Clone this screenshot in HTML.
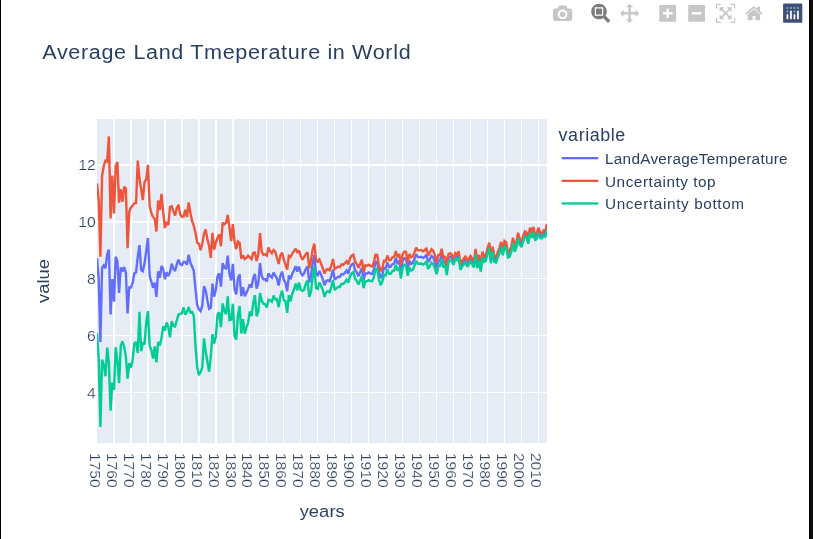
<!DOCTYPE html>
<html><head><meta charset="utf-8"><title>Average Land Tmeperature in World</title>
<style>
html,body{margin:0;padding:0;background:#fff;}
body{width:813px;height:539px;overflow:hidden;position:relative;font-family:"Liberation Sans",sans-serif;}
svg{position:absolute;left:0;top:0;will-change:transform;}
text{font-family:"Liberation Sans",sans-serif;fill:#2a3f5f;}
.tk{stroke:#fff;stroke-width:0.2px;paint-order:fill stroke;}
.ln{fill:none;stroke-width:2.4;stroke-linejoin:miter;stroke-miterlimit:2;}
</style></head><body>
<svg width="813" height="539" viewBox="0 0 813 539">
<rect x="0" y="0" width="813" height="539" fill="#fff"/>
<rect x="0" y="0" width="1" height="539" fill="#000"/>
<rect x="809" y="0" width="1" height="539" fill="#000"/><rect x="810" y="0" width="3" height="539" fill="#0f0f0f"/>
<rect x="97" y="119" width="450" height="324" fill="#e5ecf6"/>
<rect x="113" y="119" width="2" height="324" fill="#fff"/><rect x="130" y="119" width="2" height="324" fill="#fff"/><rect x="147" y="119" width="2" height="324" fill="#fff"/><rect x="164" y="119" width="2" height="324" fill="#fff"/><rect x="181" y="119" width="2" height="324" fill="#fff"/><rect x="198" y="119" width="2" height="324" fill="#fff"/><rect x="215" y="119" width="2" height="324" fill="#fff"/><rect x="232" y="119" width="2" height="324" fill="#fff"/><rect x="249" y="119" width="1" height="324" fill="#fff"/><rect x="266" y="119" width="1" height="324" fill="#fff"/><rect x="283" y="119" width="1" height="324" fill="#fff"/><rect x="300" y="119" width="1" height="324" fill="#fff"/><rect x="317" y="119" width="1" height="324" fill="#fff"/><rect x="334" y="119" width="1" height="324" fill="#fff"/><rect x="351" y="119" width="1" height="324" fill="#fff"/><rect x="368" y="119" width="1" height="324" fill="#fff"/><rect x="385" y="119" width="1" height="324" fill="#fff"/><rect x="402" y="119" width="1" height="324" fill="#fff"/><rect x="419" y="119" width="1" height="324" fill="#fff"/><rect x="436" y="119" width="1" height="324" fill="#fff"/><rect x="453" y="119" width="1" height="324" fill="#fff"/><rect x="470" y="119" width="1" height="324" fill="#fff"/><rect x="487" y="119" width="1" height="324" fill="#fff"/><rect x="504" y="119" width="1" height="324" fill="#fff"/><rect x="521" y="119" width="1" height="324" fill="#fff"/><rect x="538" y="119" width="1" height="324" fill="#fff"/><rect x="97" y="164" width="450" height="2" fill="#fff"/><rect x="97" y="221" width="450" height="2" fill="#fff"/><rect x="97" y="278" width="450" height="1" fill="#fff"/><rect x="97" y="335" width="450" height="1" fill="#fff"/><rect x="97" y="392" width="450" height="1" fill="#fff"/>
<clipPath id="cp"><rect x="97" y="119" width="450" height="324"/></clipPath>
<g clip-path="url(#cp)">
<path class="ln" stroke="#636efa" d="M97.00,258.22L98.70,279.27L100.40,341.86L102.09,267.60L103.79,265.33L105.49,268.46L107.19,254.52L108.89,249.68L110.58,314.55L112.28,278.98L113.98,301.74L115.68,256.79L117.38,261.35L119.07,292.93L120.77,267.32L122.47,271.59L124.17,267.04L125.87,272.44L127.56,313.41L129.26,287.52L130.96,287.52L132.66,282.97L134.36,273.29L136.05,272.44L137.75,256.79L139.45,245.13L141.15,270.16L142.85,271.30L144.54,263.34L146.24,250.82L147.94,238.02L149.64,275.86L151.34,281.54L153.03,287.80L154.73,282.68L156.43,296.91L158.13,271.30L159.83,277.85L161.52,265.90L163.22,269.31L164.92,279.27L166.62,272.16L168.32,276.14L170.01,272.16L171.71,263.62L173.41,268.74L175.11,271.02L176.81,264.19L178.50,259.64L180.20,264.19L181.90,265.04L183.60,261.91L185.30,262.20L186.99,264.48L188.69,254.80L190.39,262.77L192.09,266.47L193.79,270.73L195.48,289.23L197.18,304.87L198.88,309.43L200.58,311.13L202.28,305.73L203.97,286.10L205.67,290.36L207.37,300.32L209.07,308.86L210.77,307.72L212.46,283.54L214.16,296.62L215.86,289.51L217.56,276.14L219.26,273.29L220.95,286.67L222.65,263.05L224.35,267.60L226.05,268.46L227.75,255.66L229.44,273.86L231.14,280.41L232.84,263.91L234.54,288.94L236.24,294.35L237.93,278.42L239.63,274.43L241.33,296.05L243.03,287.24L244.73,296.34L246.42,292.64L248.12,289.23L249.82,284.39L251.52,287.52L253.22,278.13L254.91,273.86L256.61,288.66L258.31,282.97L260.01,263.05L261.71,276.14L263.40,279.27L265.10,279.27L266.80,281.54L268.50,273.58L270.20,275.86L271.89,277.56L273.59,272.73L275.29,275.57L276.99,278.70L278.69,285.53L280.38,275.86L282.08,271.59L283.78,279.84L285.48,282.97L287.18,291.22L288.87,275.57L290.57,279.27L292.27,273.58L293.97,270.45L295.67,266.18L297.36,271.59L299.06,266.47L300.76,273.01L302.46,275.29L304.16,273.29L305.85,268.74L307.55,266.47L309.25,282.68L310.95,276.42L312.65,263.34L314.34,255.09L316.04,273.86L317.74,275.29L319.44,271.02L321.14,275.00L322.83,279.27L324.53,285.24L326.23,280.98L327.93,280.12L329.63,281.26L331.32,276.14L333.02,269.60L334.72,279.55L336.42,278.13L338.12,276.71L339.81,276.99L341.51,274.15L343.21,274.43L344.91,272.73L346.61,270.45L348.30,273.58L350.00,267.32L351.70,264.48L353.40,263.34L355.10,270.16L356.79,272.44L358.49,276.14L360.19,272.16L361.89,267.89L363.59,280.12L365.28,273.29L366.98,273.58L368.68,272.44L370.38,273.58L372.08,273.86L373.77,270.16L375.47,261.91L377.17,261.91L378.87,272.16L380.57,278.13L382.26,275.00L383.96,267.89L385.66,268.46L387.36,262.48L389.06,267.04L390.75,266.75L392.45,264.19L394.15,263.62L395.85,257.93L397.55,263.91L399.24,260.78L400.94,271.87L402.64,260.78L404.34,258.22L406.04,258.50L407.73,269.03L409.43,260.78L411.13,263.91L412.83,263.05L414.53,258.79L416.22,254.23L417.92,257.08L419.62,257.08L421.32,256.79L423.02,257.93L424.71,257.08L426.41,254.52L428.11,262.20L429.81,259.35L431.51,255.94L433.20,257.36L434.90,261.91L436.60,268.17L438.30,260.78L440.00,260.49L441.69,253.95L443.39,262.77L445.09,260.78L446.79,270.73L448.49,257.93L450.18,256.79L451.88,257.93L453.58,262.20L455.28,255.94L456.98,257.36L458.67,254.23L460.37,267.04L462.07,263.62L463.77,261.63L465.47,258.79L467.16,263.91L468.86,261.63L470.56,258.79L472.26,261.63L473.96,264.48L475.65,251.67L477.35,265.33L479.05,257.65L480.75,268.74L482.45,254.52L484.14,259.07L485.84,257.93L487.54,250.82L489.24,245.41L490.94,260.49L492.63,249.40L494.33,259.07L496.03,259.92L497.73,255.09L499.43,250.53L501.12,244.56L502.82,252.53L504.52,243.71L506.22,245.13L507.92,254.80L509.61,253.95L511.31,249.11L513.01,240.29L514.71,249.11L516.41,244.56L518.10,235.46L519.80,242.00L521.50,244.56L523.20,238.59L524.90,234.03L526.59,235.17L528.29,241.15L529.99,230.34L531.69,235.17L533.39,229.48L535.08,238.02L536.78,235.74L538.48,230.34L540.18,235.46L541.88,235.74L543.57,232.90L545.27,234.03L546.97,226.64"/>
<path class="ln" stroke="#ef553b" d="M97.00,183.39L98.70,200.18L100.40,256.79L102.09,175.71L103.79,165.75L105.49,160.63L107.19,161.49L108.89,136.45L110.58,218.39L112.28,175.43L113.98,213.55L115.68,166.32L117.38,162.06L119.07,202.74L120.77,189.08L122.47,201.89L124.17,186.81L125.87,188.23L127.56,248.26L129.26,211.84L130.96,207.58L132.66,205.58L134.36,203.31L136.05,203.02L137.75,160.63L139.45,178.56L141.15,189.08L142.85,200.18L144.54,182.25L146.24,179.41L147.94,164.90L149.64,206.15L151.34,212.98L153.03,216.96L154.73,218.95L156.43,231.47L158.13,200.46L159.83,210.14L161.52,193.92L163.22,212.41L164.92,228.06L166.62,221.80L168.32,225.21L170.01,207.01L171.71,206.15L173.41,211.56L175.11,215.54L176.81,208.14L178.50,204.73L180.20,214.40L181.90,216.68L183.60,216.39L185.30,209.85L186.99,216.96L188.69,202.45L190.39,212.98L192.09,220.95L193.79,225.78L195.48,232.61L197.18,242.57L198.88,243.71L200.58,250.25L202.28,243.71L203.97,233.75L205.67,229.48L207.37,239.15L209.07,245.98L210.77,257.93L212.46,232.90L214.16,249.68L215.86,242.57L217.56,237.73L219.26,234.32L220.95,246.27L222.65,222.65L224.35,224.36L226.05,222.65L227.75,214.97L229.44,227.49L231.14,241.15L232.84,224.08L234.54,241.72L236.24,249.11L237.93,241.43L239.63,242.85L241.33,258.79L243.03,255.37L244.73,259.07L246.42,257.93L248.12,255.66L249.82,257.36L251.52,259.07L253.22,252.81L254.91,252.53L256.61,261.06L258.31,254.52L260.01,233.18L261.71,251.67L263.40,254.80L265.10,254.23L266.80,255.66L268.50,247.41L270.20,251.39L271.89,253.38L273.59,249.97L275.29,251.67L276.99,258.22L278.69,263.91L280.38,255.37L282.08,252.53L283.78,259.64L285.48,264.76L287.18,269.60L288.87,255.94L290.57,257.08L292.27,253.66L293.97,251.10L295.67,248.83L297.36,252.81L299.06,250.53L300.76,256.22L302.46,259.64L304.16,256.79L305.85,253.95L307.55,252.24L309.25,268.46L310.95,260.78L312.65,249.40L314.34,243.71L316.04,259.64L317.74,261.63L319.44,259.64L321.14,263.91L322.83,268.46L324.53,273.58L326.23,269.77L327.93,269.06L329.63,270.36L331.32,265.39L333.02,259.01L334.72,269.14L336.42,267.86L338.12,266.61L339.81,267.06L341.51,264.36L343.21,264.82L344.91,263.25L346.61,261.15L348.30,264.45L350.00,258.33L351.70,255.66L353.40,254.63L355.10,261.57L356.79,263.96L358.49,267.78L360.19,263.91L361.89,259.75L363.59,272.10L365.28,265.39L366.98,265.78L368.68,264.76L370.38,266.01L372.08,266.41L373.77,262.82L375.47,254.69L377.17,254.80L378.87,265.07L380.57,271.08L382.26,267.97L383.96,260.89L385.66,261.49L387.36,255.54L389.06,260.12L390.75,259.87L392.45,257.33L394.15,256.79L395.85,251.13L397.55,257.13L399.24,254.03L400.94,265.16L402.64,254.09L404.34,251.53L406.04,251.81L407.73,262.34L409.43,254.09L411.13,257.22L412.83,256.37L414.53,252.10L416.22,247.55L417.92,250.39L419.62,250.39L421.32,250.11L423.02,251.25L424.71,250.39L426.41,247.83L428.11,255.51L429.81,252.67L431.51,249.25L433.20,250.68L434.90,255.23L436.60,262.20L438.30,255.09L440.00,255.09L441.69,248.83L443.39,257.93L445.09,256.22L446.79,266.47L448.49,254.01L450.18,253.24L451.88,254.72L453.58,259.35L455.28,253.09L456.98,254.52L458.67,251.42L460.37,264.22L462.07,260.80L463.77,258.81L465.47,255.97L467.16,261.09L468.86,258.84L470.56,256.00L472.26,258.84L473.96,261.69L475.65,248.88L477.35,262.57L479.05,254.89L480.75,265.98L482.45,251.76L484.14,256.31L485.84,255.17L487.54,248.09L489.24,242.68L490.94,257.76L492.63,246.67L494.33,256.34L496.03,257.22L497.73,252.38L499.43,247.83L501.12,241.86L502.82,249.82L504.52,241.00L506.22,242.45L507.92,252.13L509.61,251.27L511.31,246.44L513.01,237.62L514.71,246.47L516.41,241.91L518.10,232.81L519.80,239.35L521.50,241.91L523.20,235.94L524.90,231.42L526.59,232.55L528.29,238.53L529.99,227.72L531.69,232.55L533.39,226.89L535.08,235.43L536.78,233.15L538.48,227.75L540.18,232.87L541.88,233.15L543.57,230.34L545.27,231.47L546.97,224.08"/>
<path class="ln" stroke="#00cc96" d="M97.00,333.04L98.70,358.36L100.40,426.92L102.09,359.50L103.79,364.90L105.49,376.28L107.19,347.55L108.89,362.91L110.58,410.71L112.28,382.54L113.98,389.94L115.68,347.26L117.38,360.64L119.07,383.11L120.77,345.56L122.47,341.29L124.17,347.26L125.87,356.65L127.56,378.56L129.26,363.20L130.96,367.46L132.66,360.35L134.36,343.28L136.05,341.86L137.75,352.95L139.45,311.70L141.15,351.25L142.85,342.43L144.54,344.42L146.24,322.23L147.94,311.13L149.64,345.56L151.34,350.11L153.03,358.64L154.73,346.41L156.43,362.34L158.13,342.14L159.83,345.56L161.52,337.88L163.22,326.21L164.92,330.48L166.62,322.51L168.32,327.06L170.01,337.31L171.71,321.09L173.41,325.93L175.11,326.50L176.81,320.24L178.50,314.55L180.20,313.98L181.90,313.41L183.60,307.43L185.30,314.55L186.99,311.99L188.69,307.15L190.39,312.56L192.09,311.99L193.79,315.69L195.48,345.84L197.18,367.18L198.88,375.15L200.58,372.02L202.28,367.75L203.97,338.44L205.67,351.25L207.37,361.49L209.07,371.73L210.77,357.51L212.46,334.18L214.16,343.57L215.86,336.45L217.56,314.55L219.26,312.27L220.95,327.06L222.65,303.45L224.35,310.85L226.05,314.26L227.75,296.34L229.44,320.24L231.14,319.67L232.84,303.74L234.54,336.17L236.24,339.58L237.93,315.40L239.63,306.01L241.33,333.32L243.03,319.10L244.73,333.61L246.42,327.35L248.12,322.80L249.82,311.42L251.52,315.97L253.22,303.45L254.91,295.20L256.61,316.25L258.31,311.42L260.01,292.92L261.71,300.61L263.40,303.74L265.10,304.31L266.80,307.43L268.50,299.75L270.20,300.32L271.89,301.74L273.59,295.49L275.29,299.47L276.99,299.18L278.69,307.15L280.38,296.34L282.08,290.65L283.78,300.04L285.48,301.18L287.18,312.84L288.87,295.20L290.57,301.46L292.27,293.49L293.97,289.80L295.67,283.54L297.36,290.36L299.06,282.40L300.76,289.80L302.46,290.93L304.16,289.80L305.85,283.54L307.55,280.69L309.25,296.91L310.95,292.07L312.65,277.28L314.34,266.47L316.04,288.09L317.74,288.94L319.44,282.40L321.14,286.10L322.83,290.08L324.53,296.91L326.23,292.19L327.93,291.19L329.63,292.16L331.32,286.89L333.02,280.18L334.72,289.97L336.42,288.40L338.12,286.81L339.81,286.92L341.51,283.93L343.21,284.05L344.91,282.20L346.61,279.75L348.30,282.71L350.00,276.31L351.70,273.29L353.40,272.04L355.10,278.76L356.79,280.92L358.49,284.50L360.19,280.41L361.89,276.03L363.59,288.15L365.28,281.20L366.98,281.37L368.68,280.12L370.38,281.15L372.08,281.32L373.77,277.51L375.47,269.14L377.17,269.03L378.87,279.24L380.57,285.19L382.26,282.03L383.96,274.89L385.66,275.43L387.36,269.43L389.06,273.95L390.75,273.64L392.45,271.05L394.15,270.45L395.85,264.73L397.55,270.68L399.24,267.52L400.94,278.59L402.64,267.46L404.34,264.90L406.04,265.19L407.73,275.71L409.43,267.46L411.13,270.59L412.83,269.74L414.53,265.47L416.22,260.92L417.92,263.76L419.62,263.76L421.32,263.48L423.02,264.62L424.71,263.76L426.41,261.20L428.11,268.88L429.81,266.04L431.51,262.63L433.20,264.05L434.90,268.60L436.60,274.15L438.30,266.47L440.00,265.90L441.69,259.07L443.39,267.60L445.09,265.33L446.79,275.00L448.49,261.86L450.18,260.35L451.88,261.15L453.58,265.04L455.28,258.78L456.98,260.21L458.67,257.05L460.37,269.85L462.07,266.44L463.77,264.45L465.47,261.60L467.16,266.72L468.86,264.42L470.56,261.57L472.26,264.42L473.96,267.26L475.65,254.46L477.35,268.09L479.05,260.41L480.75,271.50L482.45,257.28L484.14,261.83L485.84,260.69L487.54,253.55L489.24,248.14L490.94,263.22L492.63,252.13L494.33,261.80L496.03,262.63L497.73,257.79L499.43,253.24L501.12,247.26L502.82,255.23L504.52,246.41L506.22,247.80L507.92,257.48L509.61,256.62L511.31,251.79L513.01,242.97L514.71,251.76L516.41,247.21L518.10,238.10L519.80,244.65L521.50,247.21L523.20,241.23L524.90,236.65L526.59,237.79L528.29,243.76L529.99,232.95L531.69,237.79L533.39,232.07L535.08,240.61L536.78,238.33L538.48,232.92L540.18,238.04L541.88,238.33L543.57,235.46L545.27,236.59L546.97,229.20"/>
</g>
<text class="tk" transform="translate(95.7,170) scale(1.11,1)" text-anchor="end" style="font-size:14.2px;letter-spacing:0px">12</text><text class="tk" transform="translate(95.7,227) scale(1.11,1)" text-anchor="end" style="font-size:14.2px;letter-spacing:0px">10</text><text class="tk" transform="translate(95.7,283.5) scale(1.11,1)" text-anchor="end" style="font-size:14.2px;letter-spacing:0px">8</text><text class="tk" transform="translate(95.7,340.5) scale(1.11,1)" text-anchor="end" style="font-size:14.2px;letter-spacing:0px">6</text><text class="tk" transform="translate(95.7,397.5) scale(1.11,1)" text-anchor="end" style="font-size:14.2px;letter-spacing:0px">4</text>
<text class="tk" transform="translate(89.8,452.9) rotate(90) scale(1.1,1)" text-anchor="start" style="font-size:14.2px;letter-spacing:0px">1750</text><text class="tk" transform="translate(106.765,452.9) rotate(90) scale(1.1,1)" text-anchor="start" style="font-size:14.2px;letter-spacing:0px">1760</text><text class="tk" transform="translate(123.73,452.9) rotate(90) scale(1.1,1)" text-anchor="start" style="font-size:14.2px;letter-spacing:0px">1770</text><text class="tk" transform="translate(140.695,452.9) rotate(90) scale(1.1,1)" text-anchor="start" style="font-size:14.2px;letter-spacing:0px">1780</text><text class="tk" transform="translate(157.66,452.9) rotate(90) scale(1.1,1)" text-anchor="start" style="font-size:14.2px;letter-spacing:0px">1790</text><text class="tk" transform="translate(174.625,452.9) rotate(90) scale(1.1,1)" text-anchor="start" style="font-size:14.2px;letter-spacing:0px">1800</text><text class="tk" transform="translate(191.59,452.9) rotate(90) scale(1.1,1)" text-anchor="start" style="font-size:14.2px;letter-spacing:0px">1810</text><text class="tk" transform="translate(208.555,452.9) rotate(90) scale(1.1,1)" text-anchor="start" style="font-size:14.2px;letter-spacing:0px">1820</text><text class="tk" transform="translate(225.52,452.9) rotate(90) scale(1.1,1)" text-anchor="start" style="font-size:14.2px;letter-spacing:0px">1830</text><text class="tk" transform="translate(242.485,452.9) rotate(90) scale(1.1,1)" text-anchor="start" style="font-size:14.2px;letter-spacing:0px">1840</text><text class="tk" transform="translate(259.45,452.9) rotate(90) scale(1.1,1)" text-anchor="start" style="font-size:14.2px;letter-spacing:0px">1850</text><text class="tk" transform="translate(276.415,452.9) rotate(90) scale(1.1,1)" text-anchor="start" style="font-size:14.2px;letter-spacing:0px">1860</text><text class="tk" transform="translate(293.38,452.9) rotate(90) scale(1.1,1)" text-anchor="start" style="font-size:14.2px;letter-spacing:0px">1870</text><text class="tk" transform="translate(310.345,452.9) rotate(90) scale(1.1,1)" text-anchor="start" style="font-size:14.2px;letter-spacing:0px">1880</text><text class="tk" transform="translate(327.31,452.9) rotate(90) scale(1.1,1)" text-anchor="start" style="font-size:14.2px;letter-spacing:0px">1890</text><text class="tk" transform="translate(344.275,452.9) rotate(90) scale(1.1,1)" text-anchor="start" style="font-size:14.2px;letter-spacing:0px">1900</text><text class="tk" transform="translate(361.24,452.9) rotate(90) scale(1.1,1)" text-anchor="start" style="font-size:14.2px;letter-spacing:0px">1910</text><text class="tk" transform="translate(378.205,452.9) rotate(90) scale(1.1,1)" text-anchor="start" style="font-size:14.2px;letter-spacing:0px">1920</text><text class="tk" transform="translate(395.17,452.9) rotate(90) scale(1.1,1)" text-anchor="start" style="font-size:14.2px;letter-spacing:0px">1930</text><text class="tk" transform="translate(412.135,452.9) rotate(90) scale(1.1,1)" text-anchor="start" style="font-size:14.2px;letter-spacing:0px">1940</text><text class="tk" transform="translate(429.1,452.9) rotate(90) scale(1.1,1)" text-anchor="start" style="font-size:14.2px;letter-spacing:0px">1950</text><text class="tk" transform="translate(446.065,452.9) rotate(90) scale(1.1,1)" text-anchor="start" style="font-size:14.2px;letter-spacing:0px">1960</text><text class="tk" transform="translate(463.03,452.9) rotate(90) scale(1.1,1)" text-anchor="start" style="font-size:14.2px;letter-spacing:0px">1970</text><text class="tk" transform="translate(479.995,452.9) rotate(90) scale(1.1,1)" text-anchor="start" style="font-size:14.2px;letter-spacing:0px">1980</text><text class="tk" transform="translate(496.96,452.9) rotate(90) scale(1.1,1)" text-anchor="start" style="font-size:14.2px;letter-spacing:0px">1990</text><text class="tk" transform="translate(513.925,452.9) rotate(90) scale(1.1,1)" text-anchor="start" style="font-size:14.2px;letter-spacing:0px">2000</text><text class="tk" transform="translate(530.89,452.9) rotate(90) scale(1.1,1)" text-anchor="start" style="font-size:14.2px;letter-spacing:0px">2010</text>
<text transform="translate(42.3,58.8) scale(1.02857,1)" text-anchor="start" style="font-size:21px;letter-spacing:0.61425px">Average Land Tmeperature in World</text><text transform="translate(322.2,517.1) scale(1.07368,1)" text-anchor="middle" style="font-size:17.1px;letter-spacing:0.0502941px">years</text><text transform="translate(48.6,281) rotate(-90) scale(1.06127,1)" text-anchor="middle" style="font-size:17.3px;letter-spacing:0px">value</text><text transform="translate(558.6,140.9) scale(1.02446,1)" text-anchor="start" style="font-size:17.5px;letter-spacing:0.548193px">variable</text><rect x="561.7" y="157" width="36.6" height="2.3" fill="#636efa"/><rect x="561.7" y="179.7" width="36.6" height="2.3" fill="#ef553b"/><rect x="561.7" y="202.3" width="36.6" height="2.3" fill="#00cc96"/><text transform="translate(605,164.2) scale(1.02926,1)" text-anchor="start" style="font-size:14.9px;letter-spacing:0.262324px">LandAverageTemperature</text><text transform="translate(605,186.8) scale(1.02926,1)" text-anchor="start" style="font-size:14.9px;letter-spacing:0.524648px">Uncertainty top</text><text transform="translate(605,209.4) scale(1.02926,1)" text-anchor="start" style="font-size:14.9px;letter-spacing:0.598099px">Uncertainty bottom</text>
<g transform="translate(553,3.7) scale(0.0192) matrix(1 0 0 -1 0 850)"><path fill="#c7c7c7" d="m500 450c-83 0-150-67-150-150 0-83 67-150 150-150 83 0 150 67 150 150 0 83-67 150-150 150z m400 150h-120c-16 0-34 13-39 29l-31 93c-6 15-23 28-40 28h-340c-16 0-34-13-39-28l-31-94c-6-15-23-28-40-28h-120c-55 0-100-45-100-100v-450c0-55 45-100 100-100h800c55 0 100 45 100 100v450c0 55-45 100-100 100z m-400-550c-138 0-250 112-250 250 0 138 112 250 250 250 138 0 250-112 250-250 0-138-112-250-250-250z m365 380c-19 0-35 16-35 35 0 19 16 35 35 35 19 0 35-16 35-35 0-19-16-35-35-35z"/></g>
<g transform="translate(591.2,3.7) scale(0.0192) matrix(1 0 0 -1 0 850)"><path fill="#7c7c7c" d="m1000-25l-250 251c40 63 63 138 63 218 0 224-182 406-407 406-224 0-406-182-406-406s183-406 407-406c80 0 155 22 218 62l250-250 125 125z m-812 250l0 438 437 0 0-438-437 0z m62 375l313 0 0-312-313 0 0 312z"/></g>
<g transform="translate(620,3.7) scale(0.0192) matrix(1 0 0 -1 0 850)"><path fill="#c7c7c7" d="m1000 350l-187 188 0-125-250 0 0 250 125 0-188 187-187-187 125 0 0-250-250 0 0 125-188-188 186-187 0 125 252 0 0-250-125 0 187-188 188 188-125 0 0 250 250 0 0-126 187 188z"/></g>
<g transform="translate(659.3,3.7) scale(0.0192) matrix(1 0 0 -1 0 850)"><path fill="#c7c7c7" d="m1 787l0-875 875 0 0 875-875 0z m687-500l-187 0 0-187-125 0 0 187-188 0 0 125 188 0 0 187 125 0 0-187 187 0 0-125z"/></g>
<g transform="translate(688.2,3.7) scale(0.0192) matrix(1 0 0 -1 0 850)"><path fill="#c7c7c7" d="m0 788l0-876 875 0 0 876-875 0z m688-500l-500 0 0 125 500 0 0-125z"/></g>
<g transform="translate(716,3.7) scale(0.0192) matrix(1 0 0 -1 0 850)"><path fill="#c7c7c7" d="m250 850l-187 0-63 0 0-62 0-188 63 0 0 188 187 0 0 62z m688 0l-188 0 0-62 188 0 0-188 62 0 0 188 0 62-62 0z m-875-938l0 188-63 0 0-188 0-62 63 0 187 0 0 62-187 0z m875 188l0-188-188 0 0-62 188 0 62 0 0 62 0 188-62 0z m-125 188l-1 0-93-94-156 156 156 156 92-93 2 0 0 250-250 0 0-2 93-92-156-156-156 156 94 92 0 2-250 0 0-250 0 0 93 93 157-156-157-156-93 94 0 0 0-250 250 0 0 0-94 93 156 157 156-157-93-93 0 0 250 0 0 250z"/></g>
<g transform="translate(745,3.7) scale(0.0192) matrix(1 0 0 -1 0 850)"><path fill="#c7c7c7" d="m786 296v-267q0-15-11-26t-25-10h-214v214h-143v-214h-214q-15 0-25 10t-11 26v267q0 1 0 2t0 2l321 264 321-264q1-1 1-4z m124 39l-34-41q-5-5-12-6h-2q-7 0-12 3l-386 322-386-322q-7-4-13-4-7 2-12 7l-35 41q-4 5-3 13t6 12l401 334q18 15 42 15t43-15l136-114v109q0 8 5 13t13 5h107q8 0 13-5t5-13v-227l122-102q5-5 6-12t-4-13z"/></g>
<g transform="translate(783.1,3.6) scale(0.145455)"><rect fill="#3f4f75" width="132" height="132" rx="6" ry="6"/><circle fill="#80cfbe" cx="78" cy="54" r="6"/><circle fill="#80cfbe" cx="102" cy="30" r="6"/><circle fill="#80cfbe" cx="78" cy="30" r="6"/><circle fill="#80cfbe" cx="54" cy="30" r="6"/><circle fill="#80cfbe" cx="30" cy="30" r="6"/><circle fill="#80cfbe" cx="30" cy="54" r="6"/><path fill="#fff" d="M30,72a6,6,0,0,0-6,6v24a6,6,0,0,0,12,0V78A6,6,0,0,0,30,72Z"/><path fill="#fff" d="M78,72a6,6,0,0,0-6,6v24a6,6,0,0,0,12,0V78A6,6,0,0,0,78,72Z"/><path fill="#fff" d="M54,48a6,6,0,0,0-6,6v48a6,6,0,0,0,12,0V54A6,6,0,0,0,54,48Z"/><path fill="#fff" d="M102,48a6,6,0,0,0-6,6v48a6,6,0,0,0,12,0V54A6,6,0,0,0,102,48Z"/></g>

</svg>
</body></html>
